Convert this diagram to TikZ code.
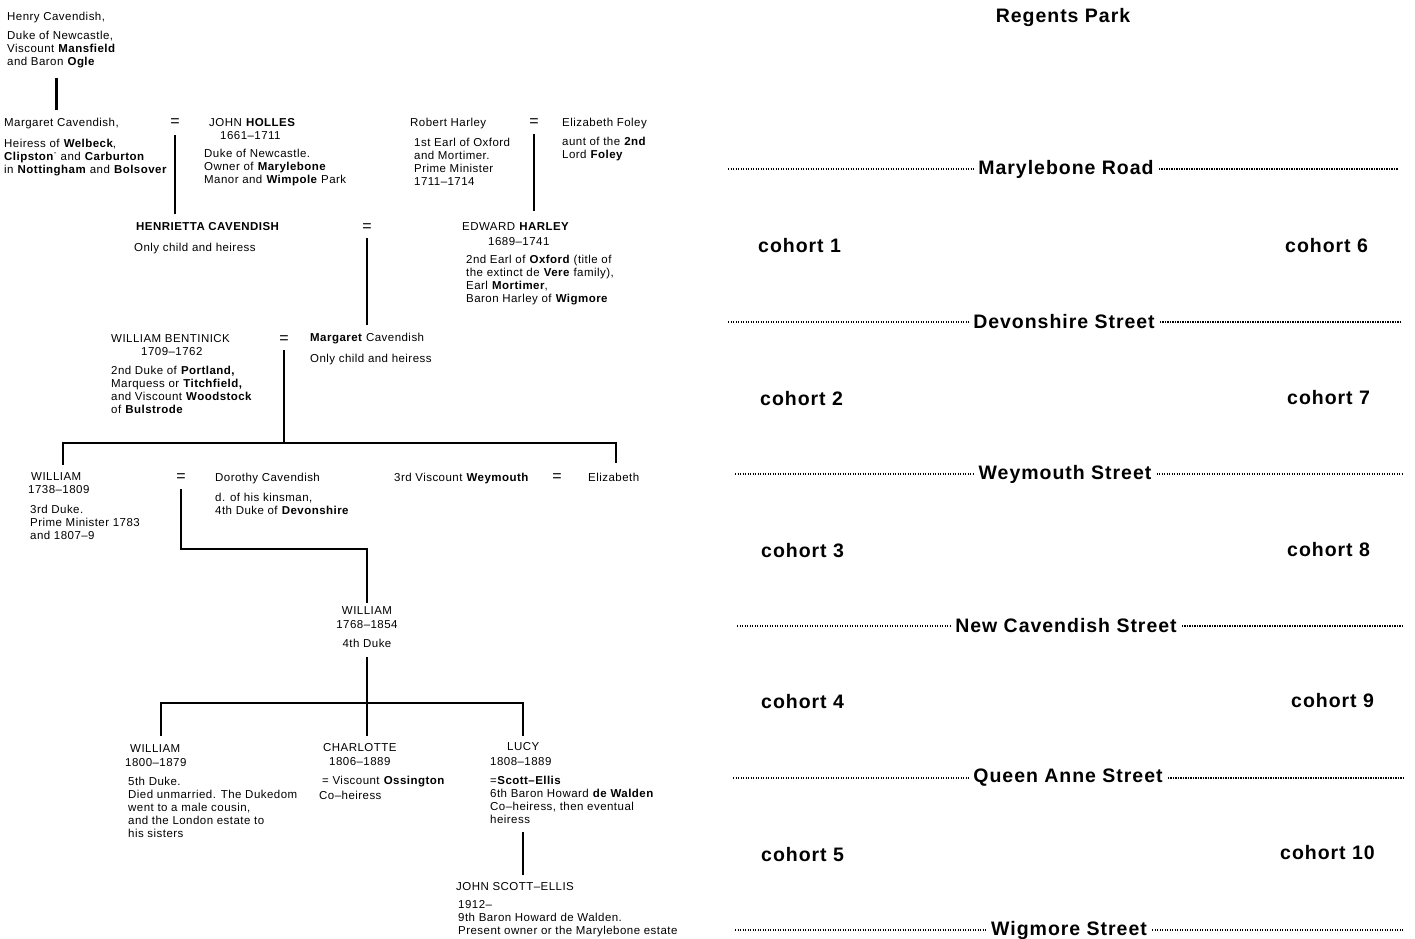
\documentclass[tikz,border=0pt]{standalone}
\usepackage{fontspec}
\setmainfont{Liberation Sans}
\newfontfamily\kinfont[LetterSpace=4]{Liberation Sans}
\newfontfamily\roadfont[LetterSpace=5]{Liberation Sans}
\usetikzlibrary{calc,positioning}
\tikzstyle{who}=[inner sep=0, align=left, anchor=north west,
		font=\kinfont\fontsize{11.5}{13}\selectfont]
\tikzstyle{eq}=[inner sep=0, font=\fontsize{16}{16}\selectfont]
\tikzstyle{kin}=[line width=2.4pt]
\tikzstyle{street}=[inner sep=5pt, font=\roadfont\bfseries\fontsize{19.5}{20}\selectfont]
\tikzstyle{cohort}=[inner sep=0, anchor=west, font=\roadfont\bfseries\fontsize{19.5}{20}\selectfont]
\tikzstyle{road}=[line width=1.2pt, dash pattern=on 1.2pt off 1.3pt]

\begin{document}
\begin{tikzpicture}[x=1pt, y=-1pt]
            \useasboundingbox[fill=white] (0,0) rectangle (1415,938);
            \node[who] (henry) at (7,11.5) {Henry Cavendish,\\[6pt]Duke of Newcastle,\\Viscount \textbf{Mansfield}\\and Baron \textbf{Ogle}};
            \node[who] (marg1) at (4,117.5) {Margaret Cavendish,\\[8pt]Heiress of \textbf{Welbeck},\\\textbf{Clipston}\textsuperscript{-} and \textbf{Carburton}\\in \textbf{Nottingham} and \textbf{Bolsover}};
            \node[eq] (eqA) at (175,123) {=};
            \node[who] (holles) at (204,118.5) {\hspace*{5pt}JOHN \textbf{HOLLES}\\\hspace*{16pt}1661\textendash1711\\[5pt]Duke of Newcastle.\\Owner of \textbf{Marylebone}\\Manor and \textbf{Wimpole} Park};
            \node[who] (robert) at (410,117.5) {Robert Harley\\[7pt]\hspace*{4pt}1st Earl of Oxford\\\hspace*{4pt}and Mortimer.\\\hspace*{4pt}Prime Minister\\\hspace*{4pt}1711\textendash1714};
            \node[eq] (eqB) at (534,123) {=};
            \node[who] (foley) at (562,117.5) {Elizabeth Foley\\[6pt]aunt of the \textbf{2nd}\\Lord \textbf{Foley}};
            \node[who] (henr) at (134,222.5) {\hspace*{2pt}\textbf{HENRIETTA CAVENDISH}\\[8pt]Only child and heiress};
            \node[eq] (eqC) at (367,228) {=};
            \node[who] (edward) at (462,222.5) {EDWARD \textbf{HARLEY}\\[2pt]\hspace*{26pt}1689\textendash1741\\[5pt]\hspace*{4pt}2nd Earl of \textbf{Oxford} (title of\\\hspace*{4pt}the extinct de \textbf{Vere} family),\\\hspace*{4pt}Earl \textbf{Mortimer},\\\hspace*{4pt}Baron Harley of \textbf{Wigmore}};
            \node[who] (bent) at (111,334.5) {WILLIAM BENTINICK\\\hspace*{30pt}1709\textendash1762\\[6pt]2nd Duke of \textbf{Portland,}\\Marquess or \textbf{Titchfield,}\\and Viscount \textbf{Woodstock}\\of \textbf{Bulstrode}};
            \node[eq] (eqD) at (284,340) {=};
            \node[who] (marg2) at (310,332.5) {\textbf{Margaret} Cavendish\\[8pt]Only child and heiress};
            \node[who] (will3) at (28,472.5) {\hspace*{3pt}WILLIAM\\1738\textendash1809\\[7pt]\hspace*{2pt}3rd Duke.\\\hspace*{2pt}Prime Minister 1783\\\hspace*{2pt}and 1807\textendash9};
            \node[eq] (eqE) at (181,478) {=};
            \node[who] (dorothy) at (215,472.5) {Dorothy Cavendish\\[7pt]d. of his kinsman,\\4th Duke of \textbf{Devonshire}};
            \node[who] (weym) at (394,472.5) {3rd Viscount \textbf{Weymouth}};
            \node[eq] (eqF) at (557,478) {=};
            \node[who] (eliz) at (588,472.5) {Elizabeth};
            \node[who, align=center, anchor=north] (will4) at (367,606.5) {WILLIAM\\[1pt]1768\textendash1854\\[6pt]4th Duke};
            \node[who] (will5) at (125,744.5) {\hspace*{5pt}WILLIAM\\[1pt]1800\textendash1879\\[6pt]\hspace*{3pt}5th Duke.\\\hspace*{3pt}Died unmarried. The Dukedom\\\hspace*{3pt}went to a male cousin,\\\hspace*{3pt}and the London estate to\\\hspace*{3pt}his sisters};
            \node[who] (charl) at (319,743.5) {\hspace*{4pt}CHARLOTTE\\[1pt]\hspace*{10pt}1806\textendash1889\\[6pt]\hspace*{3pt}= Viscount \textbf{Ossington}\\[2pt]Co\textendash heiress};
            \node[who] (lucy) at (490,742.5) {\hspace*{17pt}LUCY\\[2pt]1808\textendash1889\\[6pt]=\textbf{Scott\textendash Ellis}\\6th Baron Howard \textbf{de Walden}\\Co\textendash heiress, then eventual\\heiress};
            \node[who] (john) at (456,882.5) {JOHN SCOTT\textendash ELLIS\\[5pt]\hspace*{2pt}1912\textendash\\\hspace*{2pt}9th Baron Howard de Walden.\\\hspace*{2pt}Present owner or the Marylebone estate};
            \coordinate (bar1w) at (63,443);
            \coordinate (bar1e) at (616,443);
            \coordinate (turn1) at (181,549);
            \coordinate (bar2w) at (161,703);
            \coordinate (bar2e) at (523,703);
            \draw[kin] ($(henry.south)+(-5,10)$) -- ($(marg1.north -| henry.south)+(-5,-8)$);
            \draw[kin] ($(eqA.south)+(0,8)$) -- ($(eqA.south |- henr.north)+(0,-9)$);
            \draw[kin] ($(eqB.south)+(0,7)$) -- ($(eqB.south |- edward.north)+(0,-12)$);
            \draw[kin] ($(eqC.south)+(0,6)$) -- ($(eqC.south |- marg2.north)+(0,-8)$);
            \draw[kin] ($(eqD.south)+(0,6)$) -- (eqD.south |- bar1w);
            \draw[kin] ($(bar1w |- will3.north)+(0,-8)$) -- (bar1w) -- (bar1e) -- ($(bar1e |- eliz.north)+(0,-10)$);
            \draw[kin] ($(eqE.south)+(0,7)$) -- (turn1) -| ($(will4.north)+(0,-4)$);
            \draw[kin] ($(will4.south)+(0,9)$) -- (will4.south |- bar2w);
            \draw[kin] ($(bar2w |- will5.north)+(0,-9)$) -- (bar2w) -- (bar2e) -- ($(bar2e |- lucy.north)+(0,-7)$);
            \draw[kin] (will4.south |- bar2w) -- ($(will4.south |- charl.north)+(0,-8)$);
            \draw[kin] ($(lucy.south -| bar2e)+(0,8)$) -- ($(john.north -| bar2e)+(0,-8)$);
            \node[street] (park) at (1063,17) {Regents Park};
            \node[street] (maryl) at (1066,169) {Marylebone Road};
            \node[street] (devon) at (1064,322) {Devonshire Street};
            \node[street] (weymst) at (1065,474) {Weymouth Street};
            \node[street] (newcav) at (1066,626) {New Cavendish Street};
            \node[street] (queen) at (1068,778) {Queen Anne Street};
            \node[street] (wigm) at (1069,930) {Wigmore Street};
            \coordinate (marylw) at (728,169); \coordinate (maryle) at (1398,169);
            \coordinate (devonw) at (728,322); \coordinate (devone) at (1400,322);
            \coordinate (weymw) at (735,474); \coordinate (weyme) at (1402,474);
            \coordinate (newcavw) at (737,626); \coordinate (newcave) at (1404,626);
            \coordinate (queenw) at (733,778); \coordinate (queene) at (1403,778);
            \coordinate (wigmw) at (735,930); \coordinate (wigme) at (1404,930);
            \draw[road] (marylw) -- (maryl); \draw[road] (maryl) -- (maryle);
            \draw[road] (devonw) -- (devon); \draw[road] (devon) -- (devone);
            \draw[road] (weymw) -- (weymst); \draw[road] (weymst) -- (weyme);
            \draw[road] (newcavw) -- (newcav); \draw[road] (newcav) -- (newcave);
            \draw[road] (queenw) -- (queen); \draw[road] (queen) -- (queene);
            \draw[road] (wigmw) -- (wigm); \draw[road] (wigm) -- (wigme);
            \node[cohort] (c1) at (758,246) {cohort 1};
            \node[cohort] (c2) at (760,399) {cohort 2};
            \node[cohort] (c3) at (761,551) {cohort 3};
            \node[cohort] (c4) at (761,702) {cohort 4};
            \node[cohort] (c5) at (761,855) {cohort 5};
            \node[cohort] (c6) at (1285,246) {cohort 6};
            \node[cohort] (c7) at (1287,398) {cohort 7};
            \node[cohort] (c8) at (1287,550) {cohort 8};
            \node[cohort] (c9) at (1291,701) {cohort 9};
            \node[cohort] (c10) at (1280,853) {cohort 10};
        \end{tikzpicture}
\end{document}
